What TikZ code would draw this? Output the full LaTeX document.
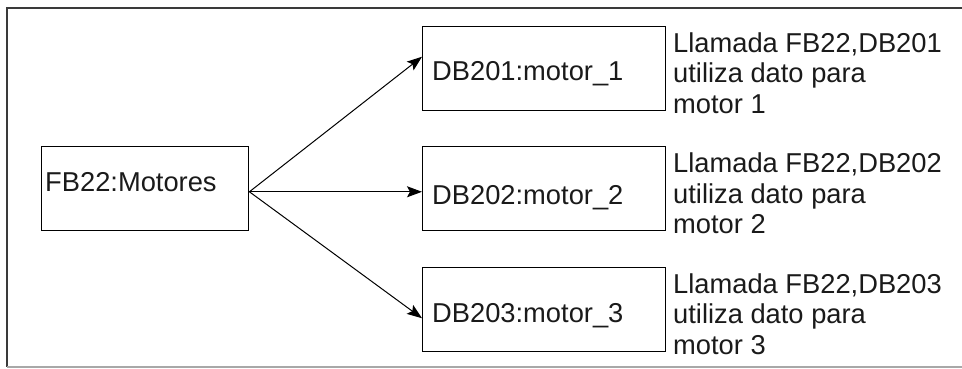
\documentclass[tikz,border=0pt]{standalone}
\usepackage{fontspec}
\setmainfont{Liberation Sans}
\usetikzlibrary{arrows.meta,calc}

\definecolor{framedark}{HTML}{3A3A3A}
\definecolor{framelight}{HTML}{A8A8A8}
\definecolor{inktext}{HTML}{1A1A1A}

\tikzset{
  blockbox/.style={draw=black, line width=1.4pt, inner sep=0pt, anchor=north west},
  lbl/.style={inner sep=0pt, anchor=base west, text=inktext,
    font=\fontsize{27.3}{30.5}\selectfont},
  note/.style={lbl, align=left},
  call/.style={line width=1pt, -{Stealth[length=15pt,width=11pt,inset=3pt]}},
}

\begin{document}
\begin{tikzpicture}[x=1pt,y=-1pt]
  \useasboundingbox (0,0) rectangle (962,368);

  % outer frame (right edge runs past the page)
  \draw[framedark, line width=2pt] (990,8) -- (7,8) -- (7,367);
  \draw[framelight, line width=1.4pt] (7,367) -- (990,367);

  % function block
  \node[blockbox, minimum width=207pt, minimum height=84pt] (fb) at (41,146) {};
  \node[lbl] (fbt) at (45,191.7) {FB22:Motores};

  % instance data blocks
  \node[blockbox, minimum width=243pt, minimum height=84pt] (db1) at (422,26) {};
  \node[blockbox, minimum width=243pt, minimum height=84pt] (db2) at (422,146) {};
  \node[blockbox, minimum width=243pt, minimum height=84pt] (db3) at (422,267) {};

  \node[lbl] (db1t) at (432,80.7) {DB201:motor\_1};
  \node[lbl] (db2t) at (432,204.3) {DB202:motor\_2};
  \node[lbl] (db3t) at (432,322.3) {DB203:motor\_3};

  % call descriptions (placed by the baseline of their last line)
  \node[note] (n1) at (673,113.3) {Llamada FB22,DB201\\utiliza dato para\\motor 1};
  \node[note] (n2) at (673,233.8) {Llamada FB22,DB202\\utiliza dato para\\motor 2};
  \node[note] (n3) at (673,354.3) {Llamada FB22,DB203\\utiliza dato para\\motor 3};

  % connector end points on the block edges
  \coordinate (src) at ($(fb.north east)!0.536!(fb.south east)$);
  \coordinate (in1) at ($(db1.north west)!0.36!(db1.south west)$);
  \coordinate (in2) at ($(db2.north west)!0.536!(db2.south west)$);
  \coordinate (in3) at ($(db3.north west)!0.6!(db3.south west)$);

  \draw[call] (src) -- (in1);
  \draw[call] (src) -- (in2);
  \draw[call] (src) -- (in3);
\end{tikzpicture}
\end{document}
